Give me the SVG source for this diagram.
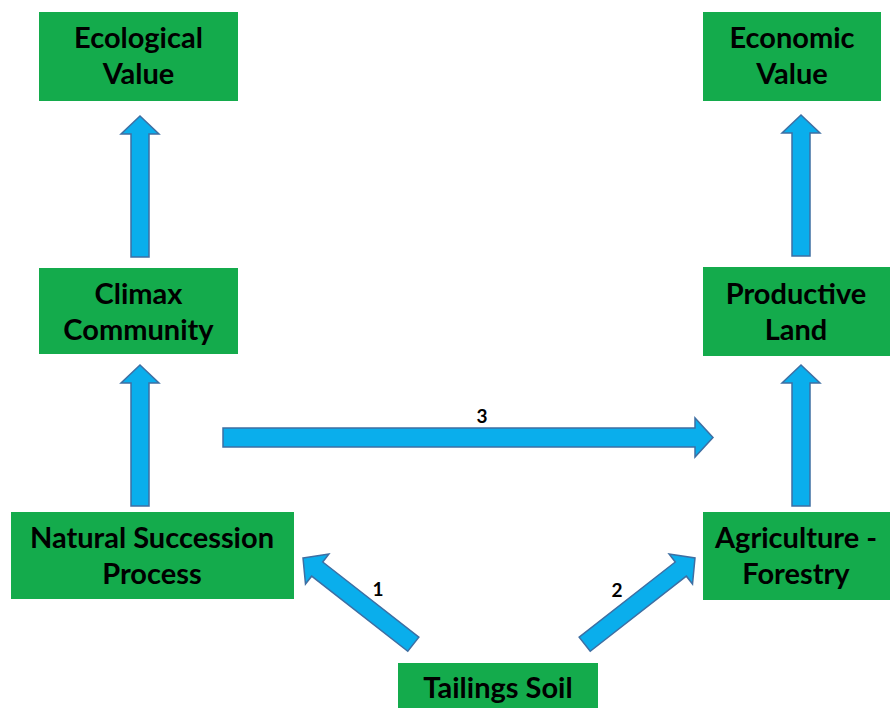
<svg xmlns="http://www.w3.org/2000/svg" width="890" height="708" viewBox="0 0 890 708">
  <style>
    .box { fill: #14AB4C; }
    .lbl { font-family: Lato, "Open Sans", "Liberation Sans", sans-serif; font-weight: bold; font-size: 29px; fill: #000; text-anchor: middle; }
    .num { font-family: Lato, "Open Sans", "Liberation Sans", sans-serif; font-weight: bold; font-size: 19px; fill: #000; text-anchor: middle; }
    .arrow { fill: #0AAEEC; stroke: #3E6FA3; stroke-width: 1.5; stroke-linejoin: miter; }
  </style>
  <defs>
    <!-- block arrow pointing up, tip at origin -->
    <path id="up" d="M0,0 L19,18 L9,18 L9,141 L-9,141 L-9,18 L-19,18 Z"/>
    <path id="up-short" d="M0,0 L19,18 L9,18 L9,140 L-9,140 L-9,18 L-19,18 Z"/>
  </defs>

  <rect width="890" height="708" fill="#fff"/>

  <g id="connectors">
    <use href="#up" class="arrow" x="140" y="116"/>
    <use href="#up" class="arrow" x="140" y="365"/>
    <use href="#up" class="arrow" x="801" y="115"/>
    <use href="#up" class="arrow" x="801" y="365"/>
    <!-- 3: horizontal arrow -->
    <path class="arrow" d="M223,428 L695,428 L695,418 L713,437.5 L695,457 L695,447 L223,447 Z"/>
    <text class="num" x="482" y="423">3</text>
    <!-- 1: Tailings Soil to Natural Succession Process -->
    <use href="#up-short" class="arrow" transform="translate(303,558) rotate(-52)"/>
    <text class="num" x="378" y="596">1</text>
    <!-- 2: Tailings Soil to Agriculture - Forestry -->
    <use href="#up-short" class="arrow" transform="translate(695,558) rotate(52)"/>
    <text class="num" x="617" y="597">2</text>
  </g>

  <g id="ecological-value">
    <rect class="box" x="39" y="12" width="199" height="89"/>
    <text class="lbl" x="138.5" y="48">Ecological</text>
    <text class="lbl" x="138.5" y="84">Value</text>
  </g>
  <g id="economic-value">
    <rect class="box" x="703" y="12" width="178" height="89"/>
    <text class="lbl" x="792" y="48">Economic</text>
    <text class="lbl" x="792" y="84">Value</text>
  </g>
  <g id="climax-community">
    <rect class="box" x="39" y="268" width="199" height="86"/>
    <text class="lbl" x="138.5" y="304">Climax</text>
    <text class="lbl" x="138.5" y="340">Community</text>
  </g>
  <g id="productive-land">
    <rect class="box" x="703" y="267" width="187" height="89"/>
    <text class="lbl" x="796" y="304">Productive</text>
    <text class="lbl" x="796" y="340">Land</text>
  </g>
  <g id="natural-succession">
    <rect class="box" x="11" y="512" width="283" height="87"/>
    <text class="lbl" x="152" y="548">Natural Succession</text>
    <text class="lbl" x="152" y="584">Process</text>
  </g>
  <g id="agriculture-forestry">
    <rect class="box" x="703" y="512" width="187" height="88"/>
    <text class="lbl" x="796" y="548">Agriculture -</text>
    <text class="lbl" x="796" y="584">Forestry</text>
  </g>
  <g id="tailings-soil">
    <rect class="box" x="398" y="663" width="200" height="50"/>
    <text class="lbl" x="498" y="698">Tailings Soil</text>
  </g>
</svg>
